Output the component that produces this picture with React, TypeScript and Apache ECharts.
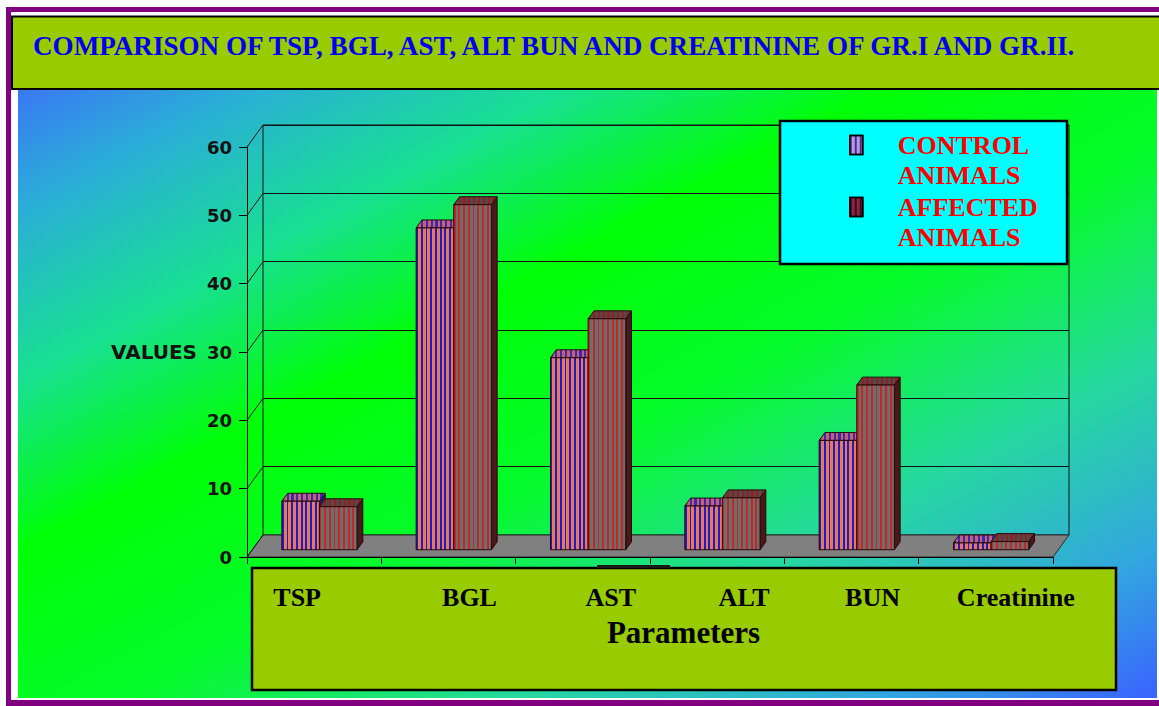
import React, { useEffect, useRef } from 'react';
import * as echarts from 'echarts';

// ---------------- data ----------------
const CATEGORIES = ['TSP', 'BGL', 'AST', 'ALT', 'BUN', 'Creatinine'];
const CONTROL = [7.1, 47.1, 28.1, 6.4, 16.0, 1.0];
const AFFECTED = [6.3, 50.5, 33.8, 7.6, 24.1, 1.2];
const SERIES_NAMES = ['CONTROL ANIMALS', 'AFFECTED ANIMALS'];
const Y_TICKS = [0, 10, 20, 30, 40, 50, 60];
const TITLE = 'COMPARISON OF TSP, BGL, AST, ALT BUN AND CREATININE OF GR.I AND GR.II.';
const Y_NAME = 'VALUES';
const X_NAME = 'Parameters';

// ---------------- layout / style ----------------
const SERIF = '"Liberation Serif", "Times New Roman", serif';
const SANS = '"DejaVu Sans", "Liberation Sans", Arial, sans-serif';
const WALL_DEPTH = [16, -22];
const BAR_PLANE = 0.33;
const BAR_DEPTH = 0.36;
const BAR_FRACTION = 0.28;
const LABEL_SHIFT = [-17, 21, 28, 27, 21, 30];

const FACES = [
  { front: ['#1c1cc8', '#e8785a'], top: ['#3a2ab0', '#c86070'], side: '#221a78', legend: '#b49be6', legendStripe: '#4a2a8a' },
  { front: ['#cc2424', '#687070'], top: ['#9a1c1c', '#4c4c4c'], side: '#4a1818', legend: '#8c2448', legendStripe: '#3a0a1a' },
];

function stripes(a: string, b: string, n: number, frac: number) {
  const stops: any[] = [];
  for (let k = 0; k < n; k++) {
    const s = k / n, m = (k + frac) / n, e = (k + 1) / n;
    stops.push({ offset: s, color: a }, { offset: m, color: a }, { offset: m, color: b }, { offset: e, color: b });
  }
  return new echarts.graphic.LinearGradient(0, 0, 1, 0, stops);
}

function barRenderer(groupIdx: number) {
  const f = FACES[groupIdx];
  return (params: any, api: any) => {
    const i = api.value(0);
    const v = api.value(1);
    const base = api.coord([i, 0]);
    const top = api.coord([i, v]);
    const band = api.size([1, 0])[0];
    const w = band * BAR_FRACTION;
    const fx = WALL_DEPTH[0] * BAR_PLANE, fy = WALL_DEPTH[1] * BAR_PLANE;
    const dx = WALL_DEPTH[0] * BAR_DEPTH, dy = WALL_DEPTH[1] * BAR_DEPTH;
    const x0 = base[0] - w + groupIdx * w + fx;
    const yb = base[1] + fy;
    const yt = top[1] + fy;
    const n = Math.max(1, Math.round(w / 4.6));
    const stroke = '#2a0808';
    return {
      type: 'group',
      children: [
        {
          type: 'polygon',
          shape: { points: [[x0 + w, yt], [x0 + w + dx, yt + dy], [x0 + w + dx, yb + dy], [x0 + w, yb]] },
          style: { fill: f.side, stroke, lineWidth: 1 },
        },
        {
          type: 'polygon',
          shape: { points: [[x0, yt], [x0 + w, yt], [x0 + w + dx, yt + dy], [x0 + dx, yt + dy]] },
          style: { fill: stripes(f.top[0], f.top[1], n + 1, 0.45), stroke, lineWidth: 1 },
        },
        {
          type: 'rect',
          shape: { x: x0, y: yt, width: w, height: yb - yt },
          style: { fill: stripes(f.front[0], f.front[1], n, 0.4), stroke, lineWidth: 1 },
        },
      ],
    };
  };
}

function frameRenderer(params: any, api: any) {
  const v = api.value(1);
  const cs = params.coordSys;
  const p = api.coord([0, v]);
  const x = cs.x;
  const children: any[] = [];
  if (v === 0) {
    const r = cs.x + cs.width;
    children.push({
      type: 'polygon',
      shape: { points: [[x, p[1]], [r, p[1]], [r + WALL_DEPTH[0], p[1] + WALL_DEPTH[1]], [x + WALL_DEPTH[0], p[1] + WALL_DEPTH[1]]] },
      style: { fill: '#808080', stroke: '#2a2a2a', lineWidth: 1 },
    });
  }
  children.push({
    type: 'line',
    shape: { x1: x, y1: p[1], x2: x + WALL_DEPTH[0], y2: p[1] + WALL_DEPTH[1] },
    style: { stroke: '#111', lineWidth: 1 },
  });
  return { type: 'group', children };
}

export default function App() {
  const ref = useRef<HTMLDivElement>(null);
  useEffect(() => {
    if (!ref.current) return;
    const chart = echarts.init(ref.current, undefined, { renderer: 'svg' });
    const labelStyle = { fontFamily: SERIF, fontWeight: 'bold', fontSize: 26, color: '#000', lineHeight: 30 };
    const rich: any = {};
    LABEL_SHIFT.forEach((s, i) => {
      rich['s' + i] = { ...labelStyle, padding: s >= 0 ? [0, 0, 0, 2 * s] : [0, -2 * s, 0, 0] };
    });

    const bg = { type: 'linear', x: 0, y: 0, x2: 1, y2: 1, colorStops: [
      { offset: 0, color: '#3a78f2' }, { offset: 0.1, color: '#2aaed8' }, { offset: 0.24, color: '#18e092' },
      { offset: 0.38, color: '#00ff06' }, { offset: 0.55, color: '#06fb2c' }, { offset: 0.72, color: '#26d8a0' },
      { offset: 0.88, color: '#32a6e0' }, { offset: 1, color: '#3a62ff' },
    ] };

    const legendDecal = (c: string) => ({
      symbol: 'rect', symbolSize: 1, dashArrayX: [[2, 3]], dashArrayY: [1, 0], color: c, rotation: 0,
    });

    chart.setOption({
      animation: false,
      backgroundColor: '#ffffff',
      title: {
        text: TITLE, left: 33, top: 30.5, padding: 0,
        textStyle: { color: '#0000ee', fontFamily: SERIF, fontWeight: 'bold', fontSize: 27.1, lineHeight: 30 },
      },
      legend: {
        left: 849, top: 100, orient: 'vertical', padding: 0, itemGap: -28,
        itemWidth: 13, itemHeight: 19, icon: 'rect', selectedMode: false,
        data: SERIES_NAMES,
        formatter: (n: string) => ' \n' + n.split(' ').join('\n'),
        textStyle: { color: '#ff0000', fontFamily: SERIF, fontWeight: 'bold', fontSize: 26, lineHeight: 30, padding: [0, 0, 0, 30] },
        itemStyle: { borderColor: '#000', borderWidth: 1.5 },
      },
      graphic: { elements: [
        { type: 'rect', z: -10, z2: 1, shape: { x: 6, y: 7, width: 1160, height: 700 }, style: { fill: '#800080' } },
        { type: 'rect', z: -10, z2: 2, shape: { x: 11, y: 12, width: 1150, height: 688 }, style: { fill: '#ffffff' } },
        { type: 'rect', z: -10, z2: 3, shape: { x: 18, y: 89, width: 1139, height: 609 }, style: { fill: bg } },
        { type: 'rect', z: -10, z2: 4, shape: { x: 12, y: 16.5, width: 1160, height: 72.5 }, style: { fill: '#99cc00', stroke: '#000', lineWidth: 2 } },
        { type: 'rect', z: -10, z2: 5, shape: { x: 252, y: 568, width: 864, height: 122 }, style: { fill: '#99cc00', stroke: '#000', lineWidth: 2.5 } },
        { type: 'rect', z: -10, z2: 6, shape: { x: 597, y: 565, width: 73, height: 3 }, style: { fill: '#1a1a1a' } },
        { type: 'rect', z: 3, z2: 1, shape: { x: 780, y: 121, width: 287, height: 143 }, style: { fill: '#00ffff', stroke: '#000', lineWidth: 2.5 } },
      ] },
      grid: [
        { left: 247, top: 147, width: 806, height: 410 },
        { left: 263, top: 125, width: 806, height: 410, show: true, backgroundColor: 'transparent', borderColor: '#111', borderWidth: 1 },
      ],
      xAxis: [
        {
          type: 'category', gridIndex: 0, data: CATEGORIES, boundaryGap: true, z: 3,
          axisLine: { show: true, lineStyle: { color: '#000', width: 1 } },
          axisTick: { show: true, length: 7, interval: 0, alignWithLabel: false, lineStyle: { color: '#000' } },
          splitLine: { show: false },
          axisLabel: {
            interval: 0, margin: 25, ...labelStyle,
            formatter: (v: string, i: number) => `{s${i}|${v}}`, rich,
          },
          name: X_NAME, nameLocation: 'middle', nameGap: 74,
          nameTextStyle: { fontFamily: SERIF, fontWeight: 'bold', fontSize: 31, color: '#000', verticalAlign: 'middle', padding: [0, 0, 0, 67] },
        },
        { type: 'category', gridIndex: 1, data: CATEGORIES, show: false },
      ],
      yAxis: [
        {
          type: 'value', gridIndex: 0, min: 0, max: 60, interval: 10,
          axisLine: { show: true, lineStyle: { color: '#000', width: 1 } },
          axisTick: { show: true, length: 8, lineStyle: { color: '#000' } },
          splitLine: { show: false },
          axisLabel: { margin: 15, fontFamily: SANS, fontWeight: 'bold', fontSize: 18, color: '#111' },
          name: Y_NAME, nameLocation: 'middle', nameRotate: 0, nameGap: 50,
          nameTextStyle: { fontFamily: SANS, fontWeight: 'bold', fontSize: 20, color: '#111', align: 'right', verticalAlign: 'middle' },
        },
        {
          type: 'value', gridIndex: 1, min: 0, max: 60, interval: 10,
          axisLine: { show: false }, axisTick: { show: false }, axisLabel: { show: false },
          splitLine: { show: true, lineStyle: { color: '#111', width: 1 } },
        },
      ],
      series: [
        {
          type: 'custom', name: 'frame', xAxisIndex: 0, yAxisIndex: 0, z: 1, silent: true, clip: false,
          data: Y_TICKS.map((v) => [0, v]), encode: { x: 0, y: 1 }, renderItem: frameRenderer,
        },
        {
          type: 'custom', name: SERIES_NAMES[0], xAxisIndex: 0, yAxisIndex: 0, z: 2, clip: false,
          itemStyle: { color: FACES[0].legend, decal: legendDecal(FACES[0].legendStripe) },
          data: CATEGORIES.map((_, i) => [i, CONTROL[i]]), encode: { x: 0, y: 1 }, renderItem: barRenderer(0),
        },
        {
          type: 'custom', name: SERIES_NAMES[1], xAxisIndex: 0, yAxisIndex: 0, z: 2, clip: false,
          itemStyle: { color: FACES[1].legend, decal: legendDecal(FACES[1].legendStripe) },
          data: CATEGORIES.map((_, i) => [i, AFFECTED[i]]), encode: { x: 0, y: 1 }, renderItem: barRenderer(1),
        },
      ],
    });
    return () => chart.dispose();
  }, []);
  return <div ref={ref} style={{ position: 'fixed', left: 0, top: 0, width: 1159, height: 706 }} />;
}
